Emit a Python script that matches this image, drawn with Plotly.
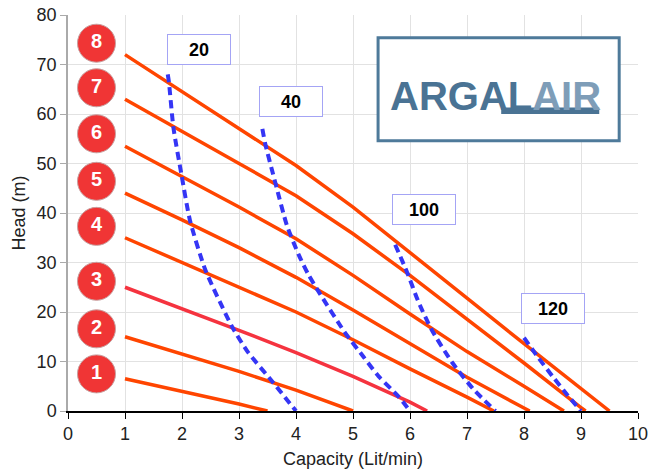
import plotly.graph_objects as go

# ---- pump curves (capacity Lit/min vs head m), one per pressure setting ----
line1_q = [1, 2, 3, 3.5]
line1_h = [6.5, 4.0, 1.4, 0]
line2_q = [1, 2, 3, 4, 5]
line2_h = [15, 11.5, 8.0, 4.2, 0]
line3_q = [1, 2, 3, 4, 5, 6, 6.3]
line3_h = [25, 20.7, 16.3, 11.8, 7.0, 1.8, 0]
line4_q = [1, 2, 3, 4, 5, 6, 7, 7.47]
line4_h = [35, 30, 25, 20, 14.4, 8.5, 2.8, 0]
line5_q = [1, 2, 3, 4, 5, 6, 7, 8, 8.1]
line5_h = [44, 38.6, 33.0, 27.0, 20.4, 13.6, 6.8, 0.6, 0]
line6_q = [1, 2, 3, 4, 5, 6, 7, 8, 8.7]
line6_h = [53.5, 47.4, 41.2, 34.8, 27.4, 19.6, 12.0, 5.0, 0]
line7_q = [1, 2, 3, 4, 5, 6, 7, 8, 9, 9.08]
line7_h = [63, 56.6, 50.0, 43.5, 35.8, 27.4, 18.6, 9.7, 0.7, 0]
line8_q = [1, 2, 3, 4, 5, 6, 7, 8, 9, 9.5]
line8_h = [72, 64.6, 57.0, 49.6, 41.2, 32.1, 22.8, 13.6, 4.6, 0]

# ---- air consumption iso-lines (dashed) ----
air20_q = [1.75, 1.77, 1.85, 1.99, 2.14, 2.41, 2.88, 3.15, 3.58, 4.0]
air20_h = [68, 66.5, 57.2, 47.8, 38.5, 28.5, 17.0, 12.0, 6.0, 0]
air40_q = [3.41, 3.46, 3.64, 3.84, 4.05, 4.22, 4.43, 4.85, 5.18, 5.45, 5.8, 6.0]
air40_h = [57, 54, 46, 37.5, 31.5, 27.5, 23.5, 16, 11, 7.0, 2.9, 0]
air100_q = [5.74, 5.95, 6.15, 6.38, 6.74, 7.12, 7.5]
air100_h = [33.6, 28, 22, 16.4, 9.8, 4.3, 0]
air120_q = [8.0, 8.25, 8.5, 8.75, 9.0]
air120_h = [14.8, 10.8, 7.0, 3.4, 0]

air_labels = ["20", "40", "100", "120"]
air_label_q = [2.29, 3.91, 6.25, 8.5]
air_label_h = [73.1, 62.6, 40.7, 20.8]

badge_labels = ["1", "2", "3", "4", "5", "6", "7", "8"]
badge_q = [0.5] * 8
badge_h = [7.5, 16.6, 26.2, 37.3, 46.4, 56.0, 65.3, 74.3]

x_ticks = [0, 1, 2, 3, 4, 5, 6, 7, 8, 9, 10]
y_ticks = [0, 10, 20, 30, 40, 50, 60, 70, 80]

ORANGE = "#FF4500"
PINK = "#F5333F"
BLUE = "#3535F5"
FONT = "Liberation Sans, Arial, sans-serif"

fig = go.Figure()

pump_lines = [
    (line1_q, line1_h, ORANGE), (line2_q, line2_h, ORANGE),
    (line3_q, line3_h, PINK), (line4_q, line4_h, ORANGE),
    (line5_q, line5_h, ORANGE), (line6_q, line6_h, ORANGE),
    (line7_q, line7_h, ORANGE), (line8_q, line8_h, ORANGE),
]
for q, h, c in pump_lines:
    fig.add_trace(go.Scatter(x=q, y=h, mode="lines",
                             line=dict(color=c, width=3.5, shape="linear"),
                             hoverinfo="skip", showlegend=False))

for q, h in [(air20_q, air20_h), (air40_q, air40_h), (air100_q, air100_h), (air120_q, air120_h)]:
    fig.add_trace(go.Scatter(x=q, y=h, mode="lines",
                             line=dict(color=BLUE, width=4, dash="8px,5px", shape="spline", smoothing=0.6),
                             hoverinfo="skip", showlegend=False))

fig.add_trace(go.Scatter(x=badge_q, y=badge_h, mode="markers+text", text=badge_labels,
                         textposition="middle center",
                         textfont=dict(color="white", size=20, family=FONT, weight="bold"),
                         marker=dict(size=38, color="#F03535", line=dict(color="#C8A0A0", width=1)),
                         hoverinfo="skip", showlegend=False, cliponaxis=False))

for t, q, h in zip(air_labels, air_label_q, air_label_h):
    fig.add_annotation(x=q, y=h, text="<b>%s</b>" % t, showarrow=False,
                       font=dict(size=18, color="black", family=FONT),
                       bgcolor="white", bordercolor="#A4A4F5", borderwidth=1,
                       borderpad=1, width=60, height=27)

# logo box
fig.add_shape(type="rect", xref="x", yref="y", x0=5.44, x1=9.67, y0=54.6, y1=75.4,
              line=dict(color="#4E7A9A", width=3), fillcolor="white", layer="above")
fig.add_shape(type="rect", xref="x", yref="y", x0=7.6, x1=9.32, y0=60.0, y1=61.3,
              line=dict(width=0), fillcolor="#4A7394", layer="above")
fig.add_annotation(x=7.5, y=63.6, xref="x", yref="y", showarrow=False,
                   text="<span style='color:#4A7394'>ARGAL</span><span style='color:#7E9DB8'>AIR</span>",
                   font=dict(size=40, family=FONT, weight="bold"))

fig.update_layout(
    width=651, height=471,
    margin=dict(l=68, r=13, t=15, b=60),
    paper_bgcolor="white", plot_bgcolor="white",
    font=dict(family=FONT, size=18, color="#222"),
    hovermode=False,
    xaxis=dict(range=[0, 10], tickvals=x_ticks, showgrid=True, gridcolor="#E2E2E2", gridwidth=1,
               zeroline=False, showline=True, linecolor="black", linewidth=1.5,
               ticks="outside", ticklen=6, tickcolor="black", automargin=False,
               title=dict(text="Capacity (Lit/min)", font=dict(size=18), standoff=9),
               tickfont=dict(size=18)),
    yaxis=dict(range=[0, 80], tickvals=y_ticks, showgrid=True, gridcolor="#E2E2E2", gridwidth=1,
               zeroline=False, showline=True, linecolor="#AAAAAA", linewidth=1.5,
               ticks="outside", ticklen=6, tickcolor="#AAAAAA", automargin=False,
               title=dict(text="Head (m)", font=dict(size=18), standoff=6),
               tickfont=dict(size=18)),
)

fig.write_html("out.html", config={"displayModeBar": False},
               post_script="document.body.style.margin='0';document.body.style.overflow='hidden';")
